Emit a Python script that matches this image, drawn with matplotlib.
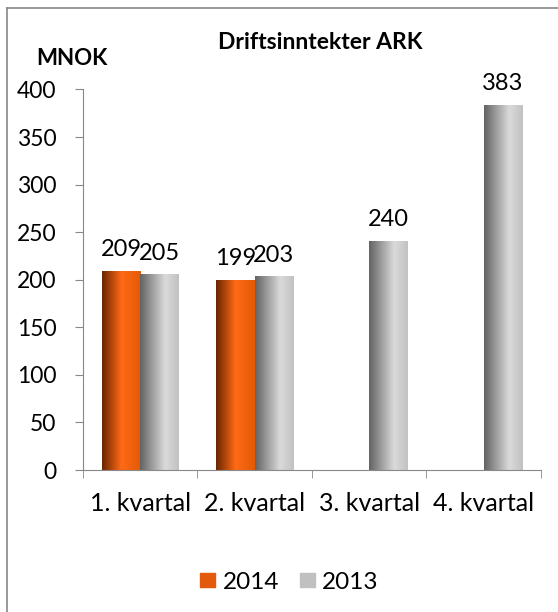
import numpy as np
import matplotlib
matplotlib.use("Agg")
import matplotlib.pyplot as plt
from matplotlib.colors import LinearSegmentedColormap
from matplotlib.lines import Line2D
from matplotlib.patches import Patch

kvartal = ['1. kvartal', '2. kvartal', '3. kvartal', '4. kvartal']
ar_2014 = [209, 199, None, None]
ar_2013 = [205, 203, 240, 383]

plt.rcParams['font.family'] = ['Lato', 'DejaVu Sans']

fig = plt.figure(figsize=(5.58, 6.12), dpi=100)
ax = fig.add_axes([0.1487, 0.232, 0.8208, 0.6218])

# gradient fills like the excel bars
cm_orange = LinearSegmentedColormap.from_list('o', [(0, '#6a2600'), (0.5, '#ff6a16'), (1, '#e35a06')])
cm_gray = LinearSegmentedColormap.from_list('g', [(0, '#646464'), (0.65, '#dadada'), (1, '#c2c2c2')])
grad = np.linspace(0, 1, 64).reshape(1, -1)

w = 0.335
x = np.arange(len(kvartal))

def gradbar(x0, h, cmap):
    ax.imshow(grad, cmap=cmap, extent=[x0, x0 + w, 0, h], aspect='auto',
              interpolation='bicubic', zorder=2)

for i in range(len(kvartal)):
    if ar_2014[i] is not None:
        gradbar(x[i] - w, ar_2014[i], cm_orange)
        ax.text(x[i] - w / 2, ar_2014[i] + 16, str(ar_2014[i]), ha='center', va='baseline', fontsize=17)
    if ar_2013[i] is not None:
        gradbar(x[i], ar_2013[i], cm_gray)
        ax.text(x[i] + w / 2, ar_2013[i] + 16, str(ar_2013[i]), ha='center', va='baseline', fontsize=17)

ax.set_xlim(-0.5, len(kvartal) - 0.5)
ax.set_ylim(0, 400)
ax.set_yticks(range(0, 401, 50))
ax.set_xticks(x)
ax.set_xticklabels(kvartal, fontsize=18)
ax.set_xticks(np.arange(-0.5, len(kvartal), 1), minor=True)
ax.tick_params(axis='x', which='major', length=0, pad=16)
ax.tick_params(axis='x', which='minor', length=6, color='#888888')
ax.tick_params(axis='y', length=6, color='#888888', labelsize=16.5, pad=13)
for s in ['top', 'right']:
    ax.spines[s].set_visible(False)
for s in ['left', 'bottom']:
    ax.spines[s].set_color('#888888')

fig.text(0.5735, 0.93, 'Driftsinntekter ARK', ha='center', va='center', fontsize=16.5, fontweight='bold')
fig.text(0.129, 0.905, 'MNOK', ha='center', va='center', fontsize=16, fontweight='bold')

handles = [Patch(color='#e35a0c', label='2014'), Patch(color='#c0c0c0', label='2013')]
fig.legend(handles=handles, loc='center', bbox_to_anchor=(0.519, 0.049), ncol=2, frameon=False,
           fontsize=17.5, handlelength=0.62, handleheight=0.5, handletextpad=0.3, columnspacing=0.85)

# outer chart frame (only top and left visible)
fig.add_artist(Line2D([0.013, 0.013], [0, 0.9864], color='#888888', lw=1.2, transform=fig.transFigure))
fig.add_artist(Line2D([0.013, 1], [0.9864, 0.9864], color='#888888', lw=1.2, transform=fig.transFigure))

fig.savefig('out.png', dpi=100)
